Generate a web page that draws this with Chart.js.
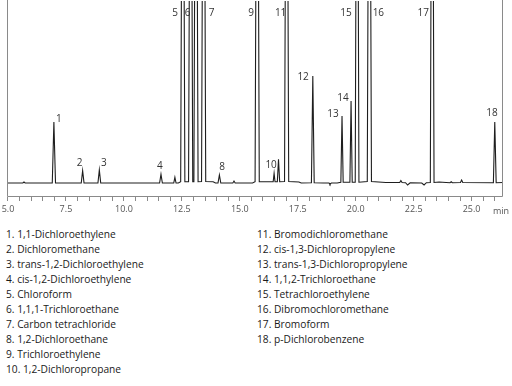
<!DOCTYPE html>
<html>
<head>
<meta charset="utf-8">
<script src="https://cdn.jsdelivr.net/npm/chart.js@4/dist/chart.umd.min.js"></script>
<style>
  html, body { margin: 0; padding: 0; background: #fff; }
  #wrap { position: relative; width: 512px; height: 386px; overflow: hidden; font-family: "Open Sans", sans-serif; }
  #c { position: absolute; left: 0; top: 0; }
  #unit { position: absolute; left: 493px; top: 205px; font-size: 9px; color: #555; line-height: 12px; }
  .col { position: absolute; top: 227px; font-size: 10.2px; color: #1a1a1a; line-height: 15px; white-space: nowrap; }
  #col1 { left: 6px; }
  #col2 { left: 257px; }
</style>
</head>
<body>
<div id="wrap">
  <canvas id="c" width="512" height="222"></canvas>
  <div id="unit">min</div>
  <div id="col1" class="col"></div>
  <div id="col2" class="col"></div>
</div>
<script>
// ---- Data ----
// Compound list (legend)
const compoundNames = [
  "1,1-Dichloroethylene", "Dichloromethane", "trans-1,2-Dichloroethylene",
  "cis-1,2-Dichloroethylene", "Chloroform", "1,1,1-Trichloroethane",
  "Carbon tetrachloride", "1,2-Dichloroethane", "Trichloroethylene",
  "1,2-Dichloropropane", "Bromodichloromethane", "cis-1,3-Dichloropropylene",
  "trans-1,3-Dichloropropylene", "1,1,2-Trichloroethane", "Tetrachloroethylene",
  "Dibromochloromethane", "Bromoform", "p-Dichlorobenzene"
];

// Peaks: retention time (min), apex response, half base width (min), foot level, peak number ('' = unlabeled)
const peakTimes   = [5.69, 6.98, 8.22, 8.94, 11.60, 12.20, 12.54, 12.88, 13.11, 13.44, 14.12, 14.75, 15.75, 16.48, 16.67, 17.02, 18.15, 19.41, 19.80, 20.06, 20.59, 21.95, 23.30, 24.12, 24.57, 26.00];
const peakHeights = [1,    61,   12.3, 13,   8.7,   5.7,   560,   560,   560,   560,   8,     2,     560,   9.7,   23.7,  560,   107,   67,    82,    560,   560,   2.5,   560,   1.2,   3,     61];
const peakWidths  = [0.05, 0.07, 0.06, 0.06, 0.06,  0.05,  0.09,  0.09,  0.09,  0.09,  0.06,  0.05,  0.09,  0.04,  0.05,  0.09,  0.06,  0.05,  0.05,  0.08,  0.09,  0.05,  0.08,  0.05,  0.05,  0.06];
const peakFeet    = [0,    0,    0,    0,    0,     0,     1.3,   1.3,   1.3,   1.5,   0,     0,     1.3,   1.3,   1.3,   1.5,   0.3,   0.8,   0.8,   0.8,   1.5,   0.5,   0.5,   0.3,   0.5,   0.3];
const peakLabels  = ['',   '1',  '2',  '3',  '4',   '',    '5',   '6',   '',    '7',   '8',   '',    '9',   '10',  '',    '11',  '12',  '13',  '14',  '15',  '16',  '',    '17',  '',    '',    '18'];

// Baseline drift / dips between peaks: time (min), level
const baseTimes  = [4.957, 12.35, 13.85, 13.95, 15.55, 17.55, 17.65, 18.60, 18.85, 18.89, 18.95, 19.20, 21.30, 22.15, 22.24, 22.35, 22.85, 22.95, 23.05, 23.60, 23.90, 26.355];
const baseLevels = [0,     0,     1.3,   0,     0,     1.0,   0,     0,     0,     -1.5,  0,     0,     0.5,   0.3,   -2,    0.2,   0,     -2,    0.3,   1.0,   0.5,   0.5];

// Axis ticks
const majorTicks = [5.0, 7.5, 10.0, 12.5, 15.0, 17.5, 20.0, 22.5, 25.0];
const allTicks = [5.0, 5.5, 6.0, 6.5, 7.0, 7.5, 8.0, 8.5, 9.0, 9.5, 10.0, 10.5, 11.0, 11.5, 12.0, 12.5, 13.0, 13.5, 14.0, 14.5, 15.0, 15.5, 16.0, 16.5, 17.0, 17.5, 18.0, 18.5, 19.0, 19.5, 20.0, 20.5, 21.0, 21.5, 22.0, 22.5, 23.0, 23.5, 24.0, 24.5, 25.0, 25.5, 26.0];

// ---- Label placement (styling, px offsets from peak apex; 'top' = above plot for off-scale peaks) ----
const labelOffsets = {
  '1': [5, -3], '2': [-3, -8], '3': [4.5, -7], '4': [-1, -8], '5': [-7.7, 'top'], '6': [-3, 'top'],
  '7': [8, 'top'], '8': [2.7, -8], '9': [-6, 'top'], '10': [-3, -8], '11': [-6, 'top'], '12': [-9.7, 1],
  '13': [-9, -2], '14': [-8, -3], '15': [-11, 'top'], '16': [9, 'top'], '17': [-9, 'top'], '18': [-2.7, -9]
};

// Legend HTML
const col1 = document.getElementById('col1'), col2 = document.getElementById('col2');
compoundNames.forEach((n, i) => {
  const d = document.createElement('div');
  d.textContent = (i + 1) + '. ' + n;
  (i < 10 ? col1 : col2).appendChild(d);
});

// Build trace from peak table + baseline anchors
const pts = [];
baseTimes.forEach((t, i) => pts.push({ x: t, y: baseLevels[i] }));
peakTimes.forEach((t, i) => {
  const w = peakWidths[i], b = peakFeet[i];
  pts.push({ x: t - w, y: b }, { x: t, y: peakHeights[i] }, { x: t + w, y: b });
});
pts.sort((a, b) => a.x - b.x);

const Y_MIN = -14, Y_MAX = 182;

const framePlugin = {
  id: 'frame',
  afterDatasetsDraw(chart) {
    const { ctx, chartArea: a, scales } = chart;
    ctx.save();
    ctx.strokeStyle = '#8a8a8a';
    ctx.lineWidth = 1;
    ctx.beginPath();
    ctx.moveTo(a.left + 0.5, 0);
    ctx.lineTo(a.left + 0.5, a.bottom - 0.5);
    ctx.lineTo(a.right - 0.5, a.bottom - 0.5);
    ctx.lineTo(a.right - 0.5, 0);
    ctx.stroke();
    // peak labels
    ctx.fillStyle = '#333';
    ctx.font = '10px "Open Sans"';
    ctx.textAlign = 'center';
    ctx.textBaseline = 'middle';
    peakTimes.forEach((t, i) => {
      const lab = peakLabels[i];
      if (!lab) return;
      const off = labelOffsets[lab];
      const px = scales.x.getPixelForValue(t) + off[0];
      let py;
      if (off[1] === 'top') py = 12.7;
      else py = scales.y.getPixelForValue(peakHeights[i]) + off[1];
      ctx.fillText(lab, px, py);
    });
    ctx.restore();
  }
};

new Chart(document.getElementById('c'), {
  type: 'line',
  data: {
    datasets: [{
      data: pts,
      borderColor: '#1e1e1e',
      borderWidth: 1.1,
      pointRadius: 0,
      tension: 0,
      fill: false
    }]
  },
  options: {
    responsive: false,
    devicePixelRatio: 1,
    animation: false,
    events: [],
    layout: { padding: { left: 7, right: 9, top: 1, bottom: 0 } },
    plugins: { legend: { display: false }, tooltip: { enabled: false } },
    scales: {
      x: {
        type: 'linear',
        min: 4.957,
        max: 26.355,
        afterBuildTicks(s) { s.ticks = allTicks.map(v => ({ value: v })); },
        afterFit(s) { s.height = 25; s.paddingLeft = 0; s.paddingRight = 0; },
        ticks: {
          autoSkip: false,
          maxRotation: 0,
          padding: 3,
          color: '#555',
          font: { family: '"Open Sans"', size: 9 },
          callback: v => majorTicks.includes(v) ? v.toFixed(1) : ''
        },
        grid: { drawOnChartArea: false, drawTicks: true, tickLength: 4, color: '#8a8a8a' },
        border: { display: false }
      },
      y: {
        display: false,
        min: Y_MIN,
        max: Y_MAX
      }
    }
  },
  plugins: [framePlugin]
});
</script>
</body>
</html>
